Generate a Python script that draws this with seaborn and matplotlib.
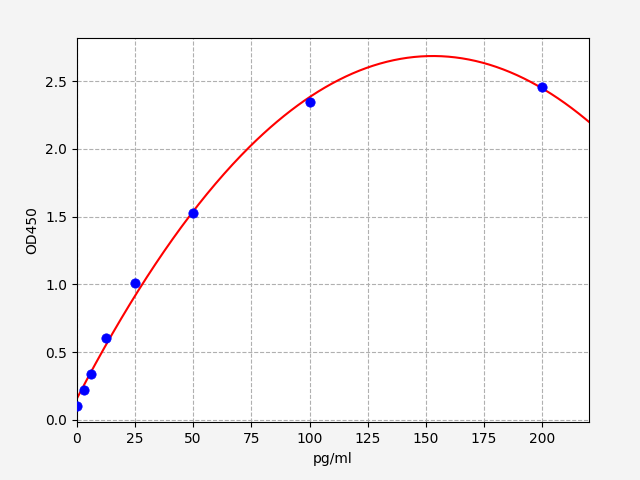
import numpy as np
import pandas as pd
import matplotlib
matplotlib.use("Agg")
import matplotlib.pyplot as plt
import seaborn as sns

conc = [0, 3.125, 6.25, 12.5, 25, 50, 100, 200]
od = [0.104, 0.222, 0.340, 0.607, 1.006, 1.524, 2.345, 2.456]

coef = np.polyfit(conc, od, 2)
xfit = np.linspace(0, 220, 300)
yfit = np.polyval(coef, xfit)

pts = pd.DataFrame({"pg/ml": conc, "OD450": od})
fit = pd.DataFrame({"pg/ml": xfit, "OD450": yfit})

fig, ax = plt.subplots(figsize=(6.4, 4.8), dpi=100)
fig.subplots_adjust(left=0.120, right=0.920, top=0.921, bottom=0.120)
fig.patch.set_facecolor("#f4f4f4")
ax.set_facecolor("white")
sns.lineplot(data=fit, x="pg/ml", y="OD450", color="red", ax=ax, lw=1.5, zorder=2)
sns.scatterplot(data=pts, x="pg/ml", y="OD450", color="blue", s=45, edgecolor="blue", ax=ax, zorder=3)
ax.set_xlim(0, 220)
ax.set_ylim(-0.02, 2.82)
ax.set_xticks([0, 25, 50, 75, 100, 125, 150, 175, 200])
ax.set_yticks([0.0, 0.5, 1.0, 1.5, 2.0, 2.5])
ax.grid(True, linestyle="--", color="#b0b0b0", linewidth=0.8)
ax.set_axisbelow(True)
ax.set_xlabel("pg/ml")
ax.set_ylabel("OD450")
fig.savefig("out.png", dpi=100, facecolor=fig.get_facecolor())
